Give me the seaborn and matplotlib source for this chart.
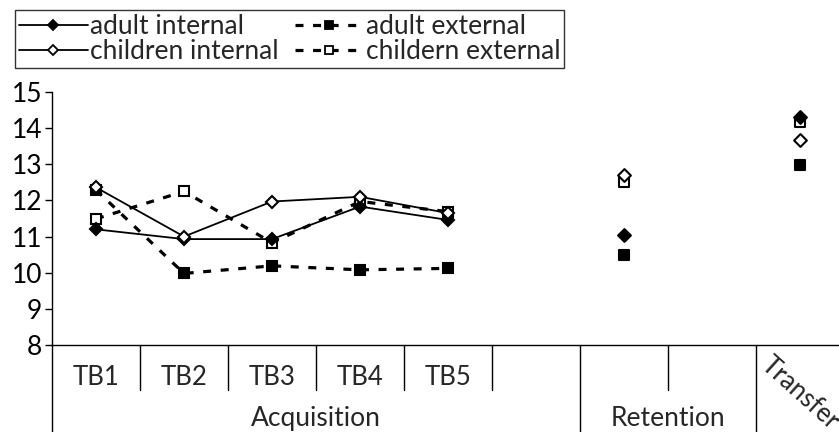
import numpy as np
import pandas as pd
import matplotlib
matplotlib.use("Agg")
import matplotlib.pyplot as plt
import seaborn as sns
from matplotlib.lines import Line2D

# blocks shown on the x axis
blocks = ["TB1", "TB2", "TB3", "TB4", "TB5"]
groups = ["Acquisition", "Retention", "Transfer"]

# values (acquisition TB1-TB5, then retention, transfer)
adult_int = [11.2, 10.93, 10.93, 11.83, 11.46]
child_int = [12.36, 11.0, 11.97, 12.1, 11.65]
adult_ext = [12.29, 9.98, 10.19, 10.08, 10.12]
child_ext = [11.49, 12.25, 10.83, 11.97, 11.69]

adult_int_ret, adult_int_tr = 11.05, 14.3
child_int_ret, child_int_tr = 12.7, 13.68
adult_ext_ret, adult_ext_tr = 10.49, 12.98
child_ext_ret, child_ext_tr = 12.52, 14.17

sns.set_style("white")
plt.rcParams['font.family'] = ['Lato', 'DejaVu Sans']

fig = plt.figure(figsize=(8.39, 4.32), dpi=100)
ax = fig.add_axes([52/839, 87/432, 792/839, 253/432])

pos = np.arange(len(blocks))
ret_pos, tr_pos = 6, 8

series = [
    ("adult external", adult_ext, adult_ext_ret, adult_ext_tr, "s", "black", (0, (2.5, 3)), 2.3),
    ("childern external", child_ext, child_ext_ret, child_ext_tr, "s", "white", (0, (2.5, 3)), 2.3),
    ("adult internal", adult_int, adult_int_ret, adult_int_tr, "D", "black", "-", 1.3),
    ("children internal", child_int, child_int_ret, child_int_tr, "D", "white", "-", 1.3),
]

handles = {}
for name, vals, ret, tr, mk, fc, ls, lw in series:
    df = pd.DataFrame({"x": pos, "y": vals})
    ms = 7 if mk == "s" else 6.5
    sns.lineplot(data=df, x="x", y="y", ax=ax, color="black", lw=lw,
                 linestyle=ls, marker=mk, markersize=ms, markerfacecolor=fc,
                 markeredgecolor="black", markeredgewidth=1.5)
    extra = pd.DataFrame({"x": [ret_pos, tr_pos], "y": [ret, tr]})
    sns.scatterplot(data=extra, x="x", y="y", ax=ax, marker=mk, s=ms**2,
                    color=fc, edgecolor="black", linewidth=1.5, zorder=3)
    handles[name] = Line2D([0], [0], color="black", lw=lw, linestyle=ls,
                           marker=mk, markersize=ms - 1, markerfacecolor=fc,
                           markeredgecolor="black", markeredgewidth=1.3)

ax.set_xlim(-0.5, 8.5)
ax.set_ylim(8, 15)
ax.set_yticks(range(8, 16))
ax.set_xticks([])
ax.set_xlabel("")
ax.set_ylabel("")
ax.tick_params(axis="y", left=True, length=5, width=1, labelsize=19, pad=2, colors="black")
for s in ["top", "right"]:
    ax.spines[s].set_visible(False)
for s in ["left", "bottom"]:
    ax.spines[s].set_color("black")
    ax.spines[s].set_linewidth(1)

# category table under the axis
trans = ax.get_xaxis_transform()
for x in [0.5, 1.5, 2.5, 3.5, 4.5, 6.5]:
    ax.plot([x, x], [0, -0.178], color="black", lw=1, transform=trans, clip_on=False)
for x in [-0.5, 5.5, 7.5]:
    ax.plot([x, x], [0, -0.40], color="black", lw=1, transform=trans, clip_on=False)
for i, b in enumerate(blocks):
    ax.text(i, -0.13, b, transform=trans, ha="center", va="center", fontsize=18.5)
ax.text(2.5, -0.29, groups[0], transform=trans, ha="center", va="center", fontsize=19)
ax.text(6.5, -0.29, groups[1], transform=trans, ha="center", va="center", fontsize=19)
ax.text(8.0, -0.19, groups[2], transform=trans, ha="center", va="center",
        fontsize=18.5, rotation=-42, rotation_mode="anchor")

order = ["adult internal", "children internal", "adult external", "childern external"]
leg = fig.legend([handles[k] for k in order], order, loc="upper left",
                 bbox_to_anchor=(15/839, 1 - 10/432), ncol=2, fontsize=19,
                 frameon=True, fancybox=False, edgecolor="black",
                 handlelength=2.6, handletextpad=0.1, columnspacing=0.6,
                 borderpad=0.15, labelspacing=0.0, borderaxespad=0)
leg.get_frame().set_linewidth(1)

fig.savefig("out.png", dpi=100)
